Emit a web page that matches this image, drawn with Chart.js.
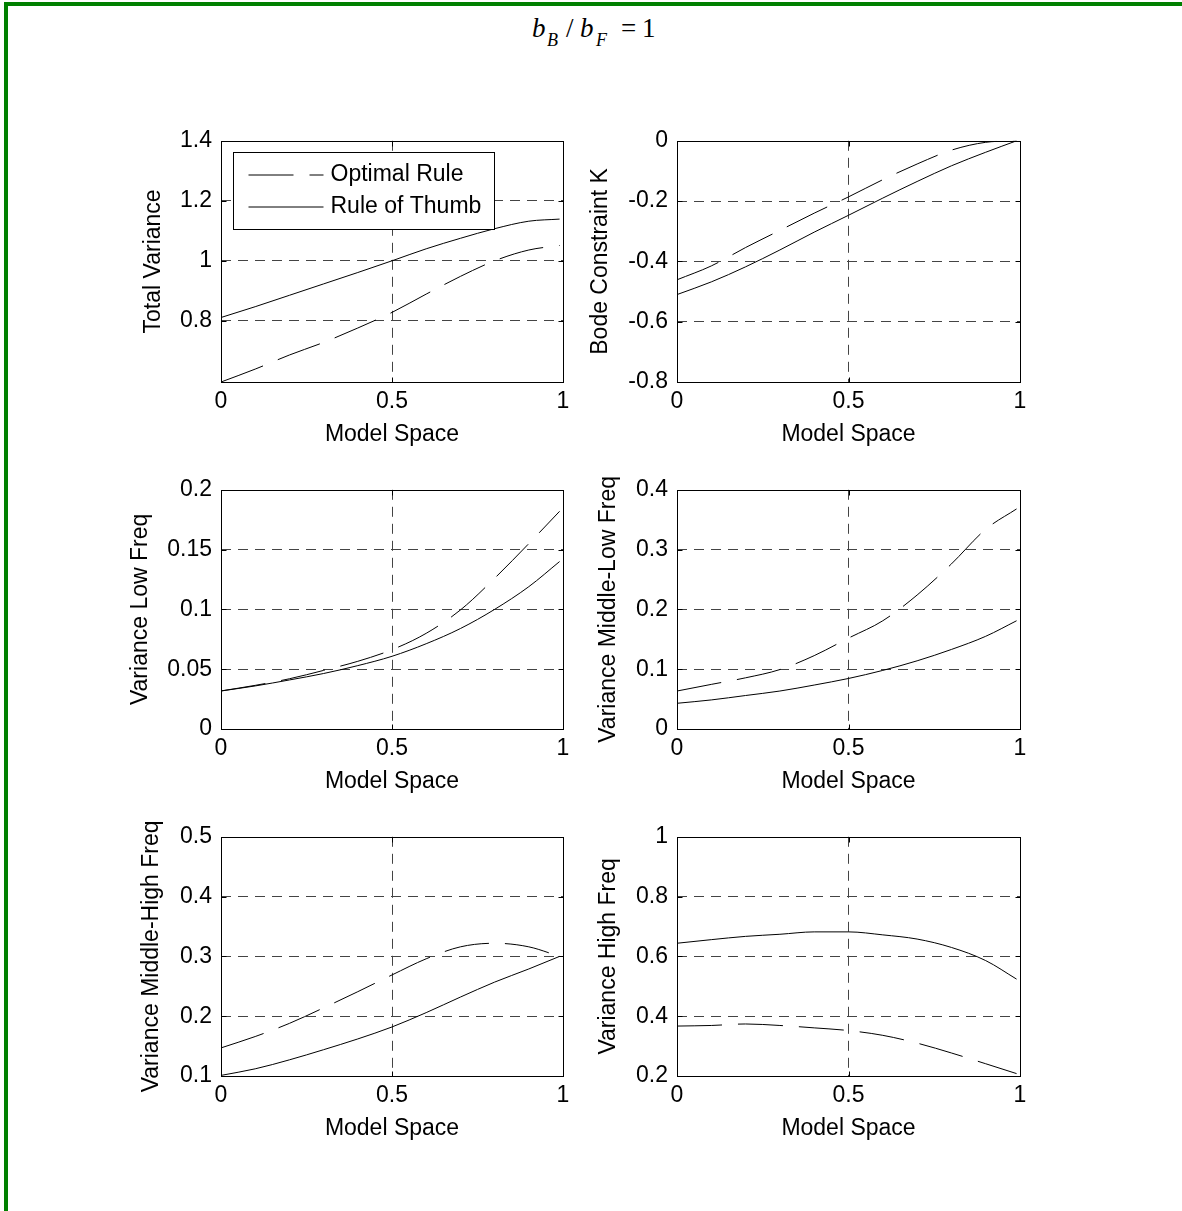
<!DOCTYPE html>
<html>
<head>
<meta charset="utf-8">
<script src="https://cdn.jsdelivr.net/npm/chart.js@4.4.1/dist/chart.umd.min.js"></script>
<style>
    body { margin: 0; background: #fff; width: 1182px; height: 1211px; overflow: hidden; position: relative; }
    .marco { position: absolute; left: 4px; top: 2px; width: 1178px; height: 1209px; border-top: 4px solid #008000; border-left: 4px solid #008000; box-sizing: border-box; }
    .panel { position: absolute; }
    .t { position: absolute; font-family: 'Liberation Serif', 'Times New Roman', serif; color: #000; line-height: 1; white-space: nowrap; }
    .grande { font-size: 27px; top: 15px; }
    .sub { font-size: 18px; top: 31px; }
    .it { font-style: italic; }
</style>
</head>
<body>
<div class="marco"></div>

<!-- Titulo: b_B / b_F = 1 -->
<span class="t grande it" style="left:532px">b</span>
<span class="t sub it" style="left:547px">B</span>
<span class="t grande" style="left:566px">/</span>
<span class="t grande it" style="left:580px">b</span>
<span class="t sub it" style="left:596px">F</span>
<span class="t grande" style="left:621px">=</span>
<span class="t grande" style="left:642px">1</span>

<script>
// Datos
const modelSpace = [0, 0.1, 0.2, 0.3, 0.4, 0.5, 0.6, 0.7, 0.8, 0.9, 0.99];
const seriesNames = ['Optimal Rule', 'Rule of Thumb'];
const xTicks = [0, 0.5, 1];

const totalOptimal = [0.596, 0.639, 0.686, 0.728, 0.776, 0.828, 0.889, 0.948, 1.0, 1.036, 1.051];
const totalThumb = [0.811, 0.847, 0.885, 0.923, 0.961, 1.0, 1.04, 1.075, 1.107, 1.132, 1.139];
const totalTicks = [0.8, 1, 1.2, 1.4];

const bodeOptimal = [-0.461, -0.415, -0.354, -0.297, -0.24, -0.186, -0.129, -0.077, -0.031, -0.005, 0.0];
const bodeThumb = [-0.51, -0.468, -0.418, -0.362, -0.303, -0.247, -0.19, -0.135, -0.083, -0.038, 0.0];
const bodeTicks = [-0.8, -0.6, -0.4, -0.2, 0];

const lowOptimal = [0.0318, 0.0365, 0.042, 0.049, 0.0566, 0.0663, 0.08, 0.0995, 0.126, 0.155, 0.182];
const lowThumb = [0.0318, 0.036, 0.041, 0.0464, 0.053, 0.0608, 0.0713, 0.084, 0.1, 0.119, 0.14];
const lowTicks = [0, 0.05, 0.1, 0.15, 0.2];

const midLowOptimal = [0.0635, 0.0746, 0.0856, 0.0994, 0.1227, 0.152, 0.181, 0.224, 0.276, 0.334, 0.368];
const midLowThumb = [0.043, 0.0486, 0.056, 0.0635, 0.0735, 0.0845, 0.098, 0.114, 0.133, 0.155, 0.181];
const midLowTicks = [0, 0.1, 0.2, 0.3, 0.4];

const midHighOptimal = [0.147, 0.166, 0.188, 0.214, 0.241, 0.269, 0.296, 0.316, 0.322, 0.316, 0.3];
const midHighThumb = [0.101, 0.112, 0.127, 0.144, 0.162, 0.182, 0.206, 0.232, 0.257, 0.279, 0.3];
const midHighTicks = [0.1, 0.2, 0.3, 0.4, 0.5];

const highOptimal = [0.367, 0.369, 0.374, 0.369, 0.361, 0.352, 0.336, 0.31, 0.277, 0.241, 0.208];
const highThumb = [0.644, 0.656, 0.667, 0.674, 0.682, 0.682, 0.672, 0.658, 0.63, 0.586, 0.524];
const highTicks = [0.2, 0.4, 0.6, 0.8, 1];

// Layout
const PAD_TOP = 20;
const PAD_RIGHT = 15;
const X_AXIS_H = 66;
const TICK = 5;
const GRID = '#444';
const DASH_OPT = [45, 16];

const paneles = [
    { yLabel: 'Total Variance', optimal: totalOptimal, thumb: totalThumb, yMin: 0.596, yMax: 1.4, yTicks: totalTicks, area: [221, 138, 563, 382], axisW: 81, legend: true },
    { yLabel: 'Bode Constraint K', optimal: bodeOptimal, thumb: bodeThumb, yMin: -0.8, yMax: 0, yTicks: bodeTicks, area: [677, 138, 1020, 382], axisW: 90 },
    { yLabel: 'Variance Low Freq', optimal: lowOptimal, thumb: lowThumb, yMin: 0, yMax: 0.2, yTicks: lowTicks, area: [221, 487, 563, 729], axisW: 94 },
    { yLabel: 'Variance Middle-Low Freq', optimal: midLowOptimal, thumb: midLowThumb, yMin: 0, yMax: 0.4, yTicks: midLowTicks, area: [677, 487, 1020, 729], axisW: 82 },
    { yLabel: 'Variance Middle-High Freq', optimal: midHighOptimal, thumb: midHighThumb, yMin: 0.1, yMax: 0.5, yTicks: midHighTicks, area: [221, 834, 563, 1076], axisW: 83 },
    { yLabel: 'Variance High Freq', optimal: highOptimal, thumb: highThumb, yMin: 0.2, yMax: 1, yTicks: highTicks, area: [677, 834, 1020, 1076], axisW: 82 }
];

Chart.defaults.font.family = "'Liberation Sans', Arial, sans-serif";
Chart.defaults.font.size = 23;
Chart.defaults.color = '#000';

const fmt = v => String(Math.round(v * 1000) / 1000);

// Caja, marcas internas y leyenda estilo MATLAB
const marcoMatlab = {
    id: 'marcoMatlab',
    afterDatasetsDraw(chart, args, opts) {
        const { ctx, chartArea: a, scales: { x, y } } = chart;
        const left = Math.round(a.left) + 0.5, right = Math.round(a.right) + 0.5;
        const top = Math.round(a.top) + 0.5, bottom = Math.round(a.bottom) + 0.5;
        ctx.save();
        ctx.setLineDash([]);
        ctx.strokeStyle = '#000';
        ctx.lineWidth = 1;
        ctx.beginPath();
        x.ticks.forEach(t => {
            const px = Math.round(x.getPixelForValue(t.value)) + 0.5;
            ctx.moveTo(px, bottom); ctx.lineTo(px, bottom - TICK);
            ctx.moveTo(px, top); ctx.lineTo(px, top + TICK);
        });
        y.ticks.forEach(t => {
            const py = Math.round(y.getPixelForValue(t.value)) + 0.5;
            ctx.moveTo(left, py); ctx.lineTo(left + TICK, py);
            ctx.moveTo(right, py); ctx.lineTo(right - TICK, py);
        });
        ctx.stroke();
        ctx.strokeRect(left, top, right - left, bottom - top);

        if (opts.legend) {
            const lx = left + 12, ly = top + 11, lw = 261, lh = 77;
            ctx.fillStyle = '#fff';
            ctx.fillRect(lx, ly, lw, lh);
            ctx.strokeRect(lx, ly, lw, lh);
            ctx.font = "23px 'Liberation Sans', Arial, sans-serif";
            ctx.textBaseline = 'middle';
            chart.data.datasets.forEach((ds, i) => {
                const yy = Math.round(ly + 22 + i * 32);
                ctx.setLineDash(ds.borderDash || []);
                ctx.beginPath();
                ctx.moveTo(lx + 15, yy);
                ctx.lineTo(lx + 90, yy);
                ctx.stroke();
                ctx.setLineDash([]);
                ctx.fillStyle = '#000';
                ctx.fillText(ds.label, lx + 97, yy);
            });
        }
        ctx.restore();
    }
};

paneles.forEach(p => {
    const [L, T, R, B] = p.area;
    const left = L - p.axisW;
    const top = T - PAD_TOP;
    const canvas = document.createElement('canvas');
    canvas.className = 'panel';
    canvas.width = R + PAD_RIGHT - left;
    canvas.height = B + X_AXIS_H - top;
    canvas.style.left = left + 'px';
    canvas.style.top = top + 'px';
    canvas.style.width = canvas.width + 'px';
    canvas.style.height = canvas.height + 'px';
    document.body.appendChild(canvas);

    const interior = (v, min, max) => v > min + 1e-9 && v < max - 1e-9;

    new Chart(canvas.getContext('2d'), {
        type: 'line',
        data: {
            datasets: [
                {
                    label: seriesNames[0],
                    data: modelSpace.map((x, i) => ({ x, y: p.optimal[i] })),
                    borderColor: '#000',
                    borderWidth: 1,
                    borderDash: DASH_OPT,
                    pointRadius: 0,
                    cubicInterpolationMode: 'monotone',
                    fill: false
                },
                {
                    label: seriesNames[1],
                    data: modelSpace.map((x, i) => ({ x, y: p.thumb[i] })),
                    borderColor: '#000',
                    borderWidth: 1,
                    pointRadius: 0,
                    cubicInterpolationMode: 'monotone',
                    fill: false
                }
            ]
        },
        options: {
            responsive: false,
            animation: false,
            events: [],
            layout: { padding: { top: PAD_TOP, right: PAD_RIGHT, bottom: 0, left: 0 } },
            plugins: {
                legend: { display: false },
                tooltip: { enabled: false },
                marcoMatlab: { legend: !!p.legend }
            },
            scales: {
                x: {
                    type: 'linear',
                    min: 0,
                    max: 1,
                    afterBuildTicks: s => { s.ticks = xTicks.map(v => ({ value: v })); },
                    afterFit: s => { s.height = X_AXIS_H; },
                    ticks: { padding: 6, autoSkip: false, maxRotation: 0, callback: v => fmt(v) },
                    grid: {
                        drawTicks: false,
                        lineWidth: 1,
                        color: c => (c.tick && interior(c.tick.value, 0, 1)) ? GRID : 'rgba(0,0,0,0)'
                    },
                    border: { display: false, dash: [10, 7] },
                    title: { display: true, text: 'Model Space', padding: 0 }
                },
                y: {
                    type: 'linear',
                    min: p.yMin,
                    max: p.yMax,
                    afterBuildTicks: s => { s.ticks = p.yTicks.map(v => ({ value: v })); },
                    afterFit: s => { s.width = p.axisW; },
                    ticks: { padding: 9, autoSkip: false, callback: v => fmt(v) },
                    grid: {
                        drawTicks: false,
                        lineWidth: 1,
                        color: c => (c.tick && interior(c.tick.value, p.yMin, p.yMax)) ? GRID : 'rgba(0,0,0,0)'
                    },
                    border: { display: false, dash: [10, 7] },
                    title: { display: true, text: p.yLabel, padding: 0 }
                }
            }
        },
        plugins: [marcoMatlab]
    });
});
</script>
</body>
</html>
